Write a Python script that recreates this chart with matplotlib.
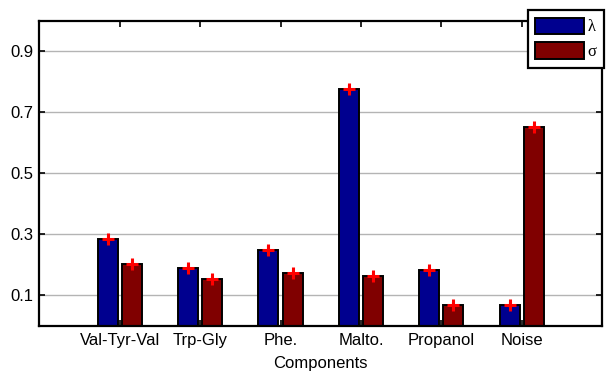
import numpy as np
import matplotlib
matplotlib.use("Agg")
import matplotlib.pyplot as plt

components = ["Val-Tyr-Val", "Trp-Gly", "Phe.", "Malto.", "Propanol", "Noise"]
lam_values = [0.284, 0.190, 0.250, 0.776, 0.182, 0.068]
sigma_values = [0.202, 0.155, 0.172, 0.163, 0.068, 0.652]
lam_err = [0.012, 0.010, 0.011, 0.012, 0.010, 0.010]
sigma_err = [0.011, 0.010, 0.010, 0.010, 0.010, 0.011]
series_labels = ["λ", "σ"]
y_ticks = [0.1, 0.3, 0.5, 0.7, 0.9]

plt.rcParams["font.family"] = ["Liberation Sans", "DejaVu Sans"]

fig = plt.figure(figsize=(6.06, 3.73), dpi=100)
ax = fig.add_axes([0.065, 0.126, 0.9284, 0.8185])

x = np.arange(1, len(components) + 1)
width = 0.25
offset = 0.15

ax.grid(axis="y", color="#b4b4b4", linewidth=1.0)
ax.set_axisbelow(True)

b1 = ax.bar(x - offset, lam_values, width, color="#00008f", edgecolor="black",
            linewidth=1.4, label=series_labels[0], zorder=2)
b2 = ax.bar(x + offset, sigma_values, width, color="#800000", edgecolor="black",
            linewidth=1.4, label=series_labels[1], zorder=2)

for xs, vals, errs in [(x - offset, lam_values, lam_err), (x + offset, sigma_values, sigma_err)]:
    ax.errorbar(xs, vals, yerr=errs, fmt="+", color="red", ecolor="red",
                markersize=8, markeredgewidth=2.2, elinewidth=1.5, capsize=0, zorder=4)

ax.set_xlim(0, 7)
ax.set_ylim(0, 1.0)
ax.set_xticks(x)
ax.set_xticklabels(components)
ax.set_yticks(y_ticks)
ax.set_yticklabels([f"{t:.1f}" for t in y_ticks])
ax.tick_params(axis="both", direction="in", length=4, width=1.2, labelsize=12,
               top=True, right=True, colors="black")
ax.tick_params(axis="x", pad=5)
ax.tick_params(axis="y", pad=4)
ax.set_xlabel("Components", fontsize=12, labelpad=6)

for sp in ax.spines.values():
    sp.set_linewidth(1.6)
    sp.set_color("black")

leg = fig.legend(handles=[b1, b2], labels=series_labels, loc="upper left",
                 bbox_to_anchor=(0.871, 0.973), bbox_transform=fig.transFigure,
                 prop={"family": "Liberation Serif", "size": 12},
                 handlelength=2.9, handleheight=1.15, labelspacing=0.4,
                 handletextpad=0.25, borderpad=0.45, borderaxespad=0,
                 fancybox=False, framealpha=1, edgecolor="black")
leg.get_frame().set_linewidth(1.6)

fig.savefig("out.png", dpi=100)
